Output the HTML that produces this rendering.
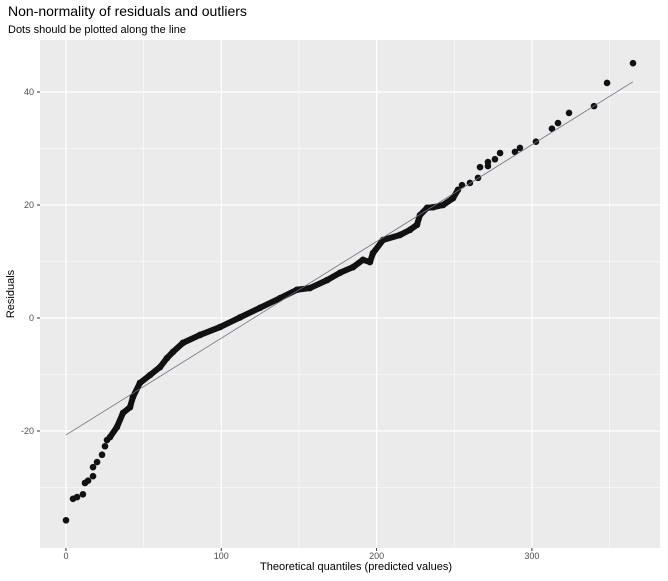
<!DOCTYPE html>
<html><head><meta charset="utf-8"><style>
body{margin:0;background:#fff;font-family:"Liberation Sans",sans-serif}
svg text{font-family:"Liberation Sans",sans-serif}
</style></head><body>
<svg id="c" width="668" height="576" xmlns="http://www.w3.org/2000/svg">
<text x="8" y="16" font-size="14" fill="#000">Non-normality of residuals and outliers</text>
<text x="8" y="33" font-size="11" fill="#000">Dots should be plotted along the line</text>
<rect x="40" y="40" width="620" height="508" fill="#EBEBEB"/>
<g id="grid"></g><g id="marks"></g><g id="axes"></g>
<text x="356" y="570" font-size="11" text-anchor="middle" fill="#000">Theoretical quantiles (predicted values)</text>
<text transform="translate(14,294) rotate(-90)" font-size="11" text-anchor="middle" fill="#000">Residuals</text>
</svg>
<script>
const xVals=[0,4.5,7.1,10.9,12.2,14.2,17.4,17.4,20.0,23.2,25.1,26.4,28.3,32.8,36.7,41.2,43.1,47.6,54.1,60.5,65.0,68.9,75.3,86.3,99.2,112.0,124.9,137.8,148.7,157.1,168.1,176.4,184.8,191.2,195.7,197.7,204.1,215.1,221.5,226.0,227.9,232.5,236.3,242.8,249.2,252.4,255.0,260.1,265.3,266.6,271.7,271.7,276.2,279.5,289.1,292.3,302.6,312.9,316.8,323.9,340.0,348.4,365.1];
const yVals=[-35.8,-32.0,-31.7,-31.2,-29.2,-28.8,-28.0,-26.4,-25.5,-24.2,-22.7,-21.6,-21.1,-19.3,-16.8,-15.8,-14.0,-11.5,-10.1,-8.7,-7.1,-6.0,-4.4,-3.0,-1.6,0.1,1.8,3.5,5.0,5.3,6.7,8.0,9.0,10.3,9.9,11.5,13.8,14.7,15.6,16.5,18.2,19.5,19.6,20.0,21.2,22.7,23.5,23.9,24.8,26.7,26.9,27.6,28.1,29.2,29.4,30.1,31.2,33.5,34.5,36.3,37.5,41.6,45.1];
const refLineX=[0,365];
const refLineY=[-20.7,41.8];
const xTicks=[0,100,200,300];
const xMinor=[50,150,250,350];
const yTicks=[-20,0,20,40];
const yMinor=[-30,-10,10,30];
const denseStart=12, denseEnd=45;
const NS="http://www.w3.org/2000/svg";
const sx=v=>66+v*1.553, sy=v=>318-v*5.65;
function mk(tag,attrs,parent){const e=document.createElementNS(NS,tag);for(const k in attrs)e.setAttribute(k,attrs[k]);document.getElementById(parent).appendChild(e);return e;}
xMinor.forEach(v=>{const l=mk('line',{x1:sx(v),x2:sx(v),y1:40,y2:548,stroke:'#fff','stroke-width':0.6},'grid');

});
yMinor.forEach(v=>{const l=mk('line',{x1:40,x2:660,y1:sy(v),y2:sy(v),stroke:'#fff','stroke-width':0.6},'grid');

});
xTicks.forEach(v=>{const l=mk('line',{x1:sx(v),x2:sx(v),y1:40,y2:548,stroke:'#fff','stroke-width':1.2},'grid');


mk('line',{x1:sx(v),x2:sx(v),y1:548,y2:551,stroke:'#333'},'axes');
const t=mk('text',{x:sx(v),y:559,'font-size':9,'text-anchor':'middle',fill:'#4d4d4d'},'axes');t.textContent=v;

});
yTicks.forEach(v=>{const l=mk('line',{x1:40,x2:660,y1:sy(v),y2:sy(v),stroke:'#fff','stroke-width':1.2},'grid');


mk('line',{x1:37,x2:40,y1:sy(v),y2:sy(v),stroke:'#333'},'axes');
const t=mk('text',{x:34,y:sy(v)+3,'font-size':9,'text-anchor':'end',fill:'#4d4d4d'},'axes');t.textContent=v;

});
let d='';for(let i=denseStart;i<=denseEnd;i++)d+=(i==denseStart?'M':'L')+sx(xVals[i])+','+sy(yVals[i]);
const p=mk('path',{d:d,fill:'none',stroke:'#111','stroke-width':6,'stroke-linecap':'round','stroke-linejoin':'round'},'marks');


xVals.forEach((x,i)=>{const c=mk('circle',{cx:sx(x),cy:sy(yVals[i]),r:3.3,fill:'#111'},'marks');

});
const rl=mk('line',{x1:sx(refLineX[0]),y1:sy(refLineY[0]),x2:sx(refLineX[1]),y2:sy(refLineY[1]),stroke:'#6e6e80','stroke-width':0.8},'marks');


</script>
</body></html>
